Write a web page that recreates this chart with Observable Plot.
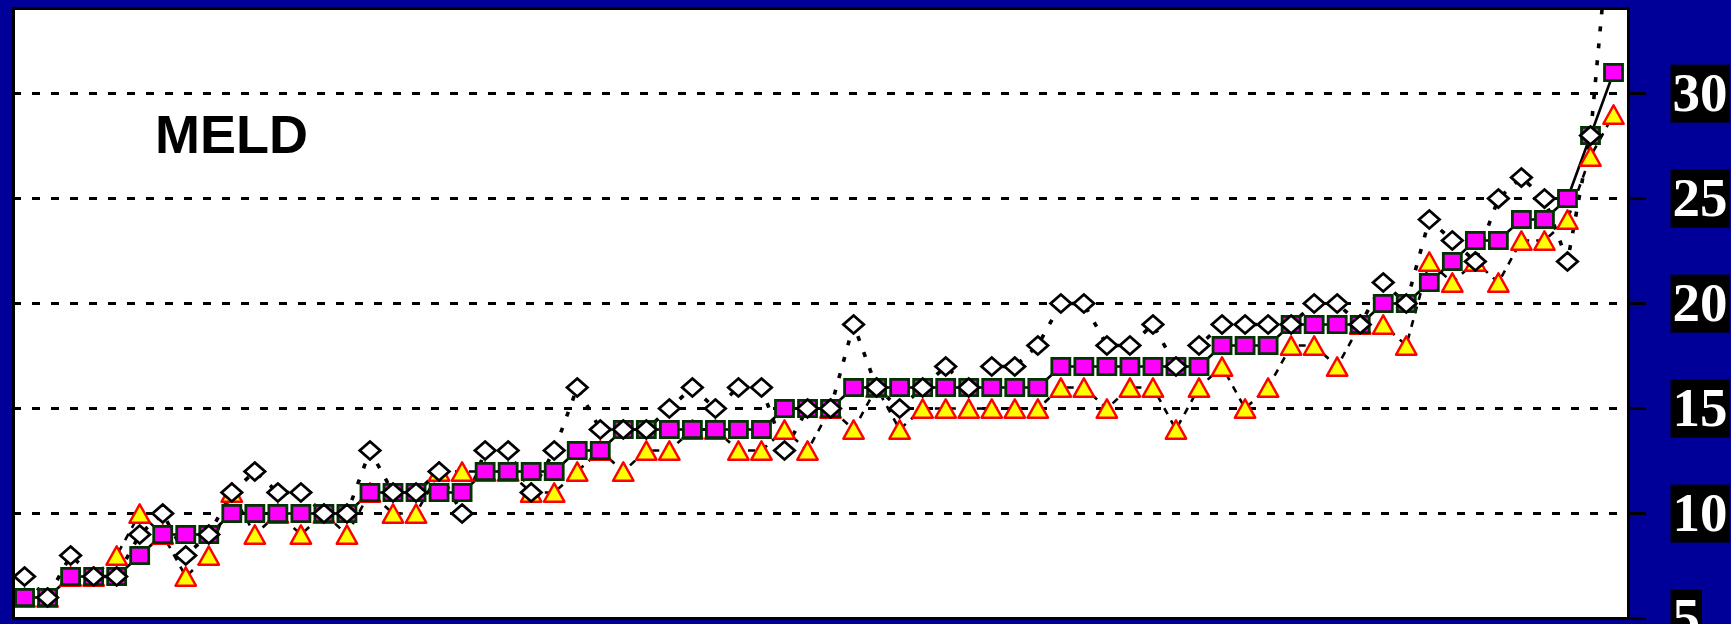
<!DOCTYPE html>
<html>
<head>
<meta charset="utf-8">
<script src="https://cdn.jsdelivr.net/npm/d3@7"></script>
<script src="https://cdn.jsdelivr.net/npm/@observablehq/plot@0.6"></script>
<style>
  html, body { margin: 0; padding: 0; background: #000099; }
  #chart { width: 1731px; height: 624px; overflow: hidden; }
  svg { display: block; }
</style>
</head>
<body>
<div id="chart"></div>
<script>
// ---- data ----
const caseIndex = Array.from({length: 70}, (_, i) => i);

const squareSeries = [6,6,7,7,7,8,9,9,9,10, 10,10,10,10,10,11,11,11,11,11,
  12,12,12,12,13,13,14,14,14,14, 14,14,14,15,15,15,16,16,16,16,
  16,16,16,16,16,17,17,17,17,17, 17,17,18,18,18,19,19,19,19,20,
  20,21,22,23,23,24,24,25,28,31];

const triangleSeries = [6,6,7,7,8,10,9,7,8,11, 9,10,9,10,9,11,10,10,12,12,
  12,12,11,11,12,13,12,13,13,14, 14,13,13,14,13,15,14,16,14,15,
  15,15,15,15,15,16,16,15,16,16, 14,16,17,15,16,18,18,17,19,19,
  18,22,21,22,21,23,23,24,27,29];

const diamondSeries = [7,6,8,7,7,9,10,8,9,11, 12,11,11,10,10,13,11,11,12,10,
  13,13,11,13,16,14,14,14,15,16, 15,16,16,13,15,15,19,16,15,16,
  17,16,17,17,18,20,20,18,18,19, 17,18,19,19,19,19,20,20,19,21,
  20,24,23,22,25,26,25,22,28,40];

const yTicks = [5, 10, 15, 20, 25, 30];
const gridValues = [10, 15, 20, 25, 30];
const titleText = ["MELD"];

// ---- tables built from the arrays ----
const sq = caseIndex.map(i => ({i, v: squareSeries[i]}));
const tri = caseIndex.map(i => ({i, v: triangleSeries[i]}));
const dia = caseIndex.map(i => ({i, v: diamondSeries[i]}));

// ---- custom marker shapes (centered on their bounding box) ----
const squareSym = {draw(ctx, size) {
  const r = Math.sqrt(size / Math.PI), h = r * 0.9;
  ctx.moveTo(-r, -h); ctx.lineTo(r, -h); ctx.lineTo(r, h); ctx.lineTo(-r, h); ctx.closePath();
}};
const triSym = {draw(ctx, size) {
  const r = Math.sqrt(size / Math.PI), h = r * 0.9;
  ctx.moveTo(0, -h); ctx.lineTo(r, h); ctx.lineTo(-r, h); ctx.closePath();
}};
const diaSym = {draw(ctx, size) {
  const r = Math.sqrt(size / Math.PI), h = r * 0.88;
  ctx.moveTo(0, -h); ctx.lineTo(r, 0); ctx.lineTo(0, h); ctx.lineTo(-r, 0); ctx.closePath();
}};

const chart = Plot.plot({
  width: 1731,
  height: 624,
  marginLeft: 13,
  marginRight: 103,
  marginTop: 8,
  marginBottom: 6,
  style: {background: "#000099", color: "black", overflow: "hidden"},
  x: {domain: [-0.48, 69.65], axis: null},
  y: {domain: [5, 34.05], axis: null},
  marks: [
    Plot.frame({fill: "white", stroke: null}),
    Plot.ruleY(gridValues, {stroke: "black", strokeWidth: 3, strokeDasharray: "8,11"}),
    Plot.text(titleText, {
      frameAnchor: "top-left", dx: 218, dy: 106, lineAnchor: "top", textAnchor: "middle",
      fontFamily: "Liberation Sans, Arial, sans-serif", fontWeight: "bold", fontSize: 54, fill: "black"
    }),
    // lines
    Plot.line(tri, {x: "i", y: "v", stroke: "black", strokeWidth: 2.6, strokeDasharray: "7,7",
      strokeLinecap: "butt", clip: true}),
    Plot.line(dia, {x: "i", y: "v", stroke: "black", strokeWidth: 3.6, strokeDasharray: "5,12",
      strokeLinecap: "butt", clip: true}),
    Plot.line(sq, {x: "i", y: "v", stroke: "black", strokeWidth: 2.6, clip: true}),
    // markers
    Plot.dot(tri, {x: "i", y: "v", symbol: triSym, r: 10.2, fill: "#FFFF00", stroke: "#FF0000",
      strokeWidth: 2.4, strokeLinejoin: "round", clip: true}),
    Plot.dot(sq, {x: "i", y: "v", symbol: squareSym, r: 9, fill: "#FF00FF", stroke: "#003300",
      strokeWidth: 2.8, clip: true}),
    Plot.dot(dia, {x: "i", y: "v", symbol: diaSym, r: 10.2, fill: "white", stroke: "black",
      strokeWidth: 2.8, clip: true}),
    Plot.frame({stroke: "black", strokeWidth: 3}),
    Plot.axisY({
      anchor: "right", ticks: yTicks, tickSize: 17, tickPadding: 27, label: null,
      stroke: "black", strokeWidth: 3, fill: "white",
      fontFamily: "Liberation Serif, Times New Roman, serif", fontWeight: "bold", fontSize: 55,
      tickFormat: d => String(d)
    })
  ]
});

document.getElementById("chart").append(chart);

// black boxes behind the tick labels
const NS = "http://www.w3.org/2000/svg";
const labelTexts = chart.querySelectorAll('g[aria-label="y-axis tick label"] text');
labelTexts.forEach(t => {
  const b = t.getBBox();
  const cy = b.y + b.height / 2 + 1;
  const rect = document.createElementNS(NS, "rect");
  rect.setAttribute("x", b.x - 2);
  rect.setAttribute("y", cy - 29);
  rect.setAttribute("width", b.width + 4);
  rect.setAttribute("height", 58);
  rect.setAttribute("fill", "black");
  rect.setAttribute("stroke", "none");
  const tr = t.getAttribute("transform");
  if (tr) rect.setAttribute("transform", tr);
  t.parentNode.insertBefore(rect, t);
});
</script>
</body>
</html>
